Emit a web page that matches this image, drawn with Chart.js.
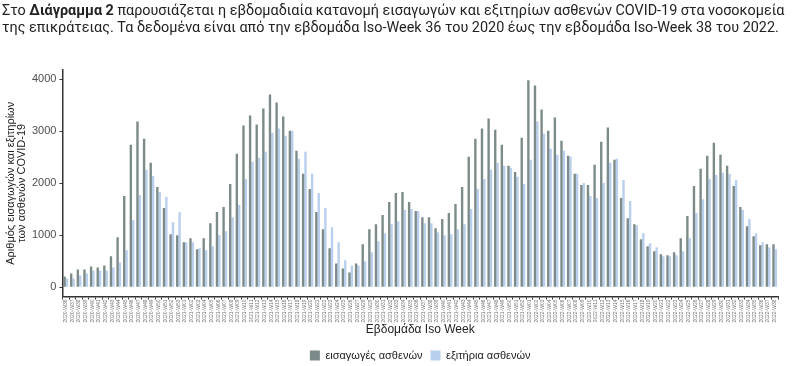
<!DOCTYPE html>
<html lang="el">
<head>
  <meta charset="UTF-8">
  <title>Διάγραμμα 2</title>
  <script src="https://cdn.jsdelivr.net/npm/chart.js@4.4.1/dist/chart.umd.min.js"></script>
  <style>
    body { margin: 0; background: #fff; }
    .intro {
      position: absolute; left: 2px; top: 2px; width: 790px;
      font-family: Roboto, sans-serif; font-size: 14.4px; line-height: 17px;
      color: #222; white-space: nowrap; z-index: 2;
    }
    .wrap { position: absolute; left: 0; top: 0; width: 792px; height: 366px; }
  </style>
</head>
<body>
  <div class="intro">Στο <b>Διάγραμμα 2</b> παρουσιάζεται η εβδομαδιαία κατανομή εισαγωγών και εξιτηρίων ασθενών COVID-19 στα νοσοκομεία<br>της επικράτειας. Τα δεδομένα είναι από την εβδομάδα Iso-Week 36 του 2020 έως την εβδομάδα Iso-Week 38 του 2022.</div>
  <div class="wrap"><canvas id="chart" width="792" height="366"></canvas></div>

  <script>
    // εβδομάδες 2020-W36 .. 2022-W38
    const weeks = [
      '2020-W36','2020-W37','2020-W38','2020-W39','2020-W40','2020-W41','2020-W42','2020-W43','2020-W44',
      '2020-W45','2020-W46','2020-W47','2020-W48','2020-W49','2020-W50','2020-W51','2020-W52','2020-W53',
      '2021-W01','2021-W02','2021-W03','2021-W04','2021-W05','2021-W06','2021-W07','2021-W08','2021-W09',
      '2021-W10','2021-W11','2021-W12','2021-W13','2021-W14','2021-W15','2021-W16','2021-W17','2021-W18',
      '2021-W19','2021-W20','2021-W21','2021-W22','2021-W23','2021-W24','2021-W25','2021-W26','2021-W27',
      '2021-W28','2021-W29','2021-W30','2021-W31','2021-W32','2021-W33','2021-W34','2021-W35','2021-W36',
      '2021-W37','2021-W38','2021-W39','2021-W40','2021-W41','2021-W42','2021-W43','2021-W44','2021-W45',
      '2021-W46','2021-W47','2021-W48','2021-W49','2021-W50','2021-W51','2021-W52',
      '2022-W01','2022-W02','2022-W03','2022-W04','2022-W05','2022-W06','2022-W07','2022-W08','2022-W09',
      '2022-W10','2022-W11','2022-W12','2022-W13','2022-W14','2022-W15','2022-W16','2022-W17','2022-W18',
      '2022-W19','2022-W20','2022-W21','2022-W22','2022-W23','2022-W24','2022-W25','2022-W26','2022-W27',
      '2022-W28','2022-W29','2022-W30','2022-W31','2022-W32','2022-W33','2022-W34','2022-W35','2022-W36',
      '2022-W37','2022-W38'
    ];

    const admissions = [
      206, 264, 342, 342, 400, 381, 419, 594, 961, 1755, 2742, 3187, 2858, 2394, 1929, 1523, 1019, 1000,
      864, 942, 729, 942, 1232, 1445, 1542, 1987, 2568, 3110, 3303, 3129, 3439, 3710, 3555, 3284, 3013, 2626,
      2181, 1890, 1445, 1116, 748, 458, 361, 284, 458, 826, 1116, 1213, 1387, 1639, 1813, 1832, 1639, 1465,
      1348, 1348, 1136, 1310, 1426, 1600, 1929, 2510, 2858, 3052, 3245, 3032, 2742, 2336, 2219, 2877,
      3981, 3884, 3419, 3013, 3265, 2819, 2529, 2181, 1968, 1968, 2355, 2800, 3071, 2452, 1716, 1329, 1213, 923,
      787, 690, 632, 613, 671, 942, 1368, 1948, 2277, 2529, 2781, 2548, 2336, 1948, 1542, 1174, 981, 806,
      826, 826
    ];

    const discharges = [
      168, 168, 226, 264, 323, 323, 323, 381, 477, 710, 1290, 1774, 2258, 2142, 1832, 1735, 1252, 1445,
      864, 864, 748, 710, 787, 1000, 1077, 1348, 1581, 2084, 2413, 2490, 2606, 2974, 3052, 2916, 3013, 2471,
      2606, 2181, 1813, 1523, 1155, 864, 516, 419, 419, 497, 671, 884, 1039, 1213, 1271, 1484, 1503, 1465,
      1232, 1232, 1058, 1000, 1019, 1116, 1213, 1503, 1890, 2084, 2258, 2394, 2336, 2297, 2123, 1987,
      2452, 3187, 2955, 2665, 2548, 2626, 2510, 2181, 2006, 1755, 1716, 2006, 2394, 2471, 2065, 1658, 1194, 1039,
      845, 768, 594, 594, 613, 690, 942, 1426, 1690, 2084, 2161, 2200, 2181, 2065, 1484, 1310, 1039, 864,
      768, 729
    ];

    const yTicks = [0, 1000, 2000, 3000, 4000];

    const axisCol = '#333';
    const ctx = document.getElementById('chart').getContext('2d');
    new Chart(ctx, {
      type: 'bar',
      data: {
        labels: weeks,
        datasets: [
          { label: 'εισαγωγές ασθενών', data: admissions, backgroundColor: '#7c8b89' },
          { label: 'εξιτήρια ασθενών', data: discharges, backgroundColor: '#b9cfee' }
        ]
      },
      options: {
        responsive: false,
        animation: false,
        devicePixelRatio: 1,
        layout: { padding: { top: 70, right: 14, left: 5, bottom: -5 } },
        datasets: { bar: { categoryPercentage: 0.72, barPercentage: 1 } },
        plugins: {
          tooltip: { enabled: false },
          legend: {
            position: 'bottom',
            fullSize: false,
            labels: {
              boxWidth: 10, boxHeight: 10, padding: 8, color: '#222',
              font: { family: 'Liberation Sans', size: 11 }
            }
          }
        },
        scales: {
          x: {
            grid: { drawOnChartArea: false, color: axisCol, tickLength: 3 },
            border: { color: axisCol, width: 1.5 },
            ticks: {
              autoSkip: false, maxRotation: 90, minRotation: 90, padding: 0,
              color: '#777', font: { family: 'Liberation Sans', size: 5 }
            },
            title: {
              display: true, text: 'Εβδομάδα Iso Week', color: '#222',
              padding: { top: 0, bottom: 5 },
              font: { family: 'Liberation Sans', size: 12 }
            }
          },
          y: {
            min: -180,
            max: 4180,
            afterBuildTicks: scale => { scale.ticks = yTicks.map(v => ({ value: v })); },
            grid: { drawOnChartArea: false, color: axisCol, tickLength: 3 },
            border: { color: axisCol, width: 1.5 },
            ticks: {
              color: '#4d4d4d', padding: 3,
              font: { family: 'Liberation Sans', size: 11 },
              callback: v => String(v)
            },
            title: {
              display: true,
              text: ['Αριθμός εισαγωγών και εξιτηρίων', 'των ασθενών COVID-19'],
              color: '#222', padding: { top: 0, bottom: 2 },
              font: { family: 'Liberation Sans', size: 11, lineHeight: 1.0 }
            }
          }
        }
      }
    });
  </script>
</body>
</html>
